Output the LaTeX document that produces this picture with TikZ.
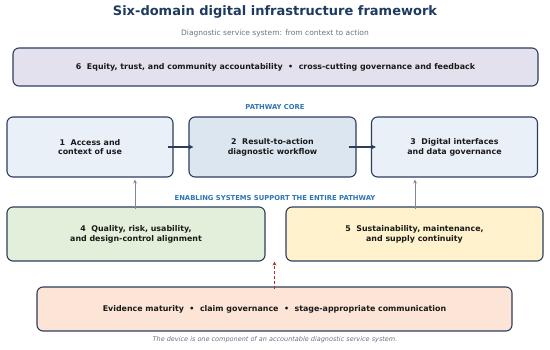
\documentclass[tikz,border=0pt]{standalone}
\usepackage{fontspec}
\setmainfont{DejaVu Sans}
\usetikzlibrary{arrows.meta,calc}
\definecolor{navy}{HTML}{2C3E5C}
\definecolor{titlec}{HTML}{1F3A5F}
\definecolor{subg}{HTML}{6B7280}
\definecolor{lav}{HTML}{E4E1EF}
\definecolor{lblue}{HTML}{EAF0F8}
\definecolor{mblue}{HTML}{DCE6F1}
\definecolor{lgreen}{HTML}{E2EFDA}
\definecolor{lyellow}{HTML}{FFF2CC}
\definecolor{lpeach}{HTML}{FCE4D6}
\definecolor{accent}{HTML}{2E75B6}
\definecolor{garrow}{HTML}{7F8A99}
\definecolor{redc}{HTML}{A93232}
\definecolor{txt}{HTML}{1A1A1A}
\tikzset{
  box/.style={draw=navy, line width=1.1pt, rounded corners=6pt, align=center,
    inner sep=0pt, text=txt, font=\fontsize{7.9}{9.8}\selectfont\bfseries},
  navyarrow/.style={draw=navy, line width=1.4pt, -{Stealth[length=5pt,width=5pt]}},
  grayarrow/.style={draw=garrow, line width=0.9pt, -{Stealth[length=4pt,width=4pt]}},
  redarrow/.style={draw=redc, line width=1.1pt, dash pattern=on 3pt off 2pt, -{Stealth[length=4pt,width=4pt]}},
  lbl/.style={text=accent, font=\fontsize{6.8}{8}\selectfont\bfseries},
}
\begin{document}
\begin{tikzpicture}[x=1pt,y=-1pt]
\useasboundingbox (0,0) rectangle (550,350);
\node[text=titlec, font=\fontsize{13}{15}\selectfont\bfseries] (title) at (275,12) {Six-domain digital infrastructure framework};
\node[text=subg, font=\fontsize{7.5}{9}\selectfont] (sub) at (275,33) {Diagnostic service system: from context to action};
\node[box, fill=lav, minimum width=525pt, minimum height=38pt] (b6) at (275.5,67) {6\ \ Equity, trust, and community accountability\ \ •\ \ cross-cutting governance and feedback};
\node[lbl] (pc) at (275,107) {PATHWAY CORE};
\node[box, fill=lblue, minimum width=166pt, minimum height=60pt] (b1) at (90,147) {1\ \ Access and\\context of use};
\node[box, fill=mblue, minimum width=167pt, minimum height=60pt] (b2) at (272.5,147) {2\ \ Result-to-action\\diagnostic workflow};
\node[box, fill=lblue, minimum width=166pt, minimum height=60pt] (b3) at (454.5,147) {3\ \ Digital interfaces\\and data governance};
\node[lbl] (en) at (275,198) {ENABLING SYSTEMS SUPPORT THE ENTIRE PATHWAY};
\node[box, fill=lgreen, minimum width=258pt, minimum height=54pt] (b4) at (136,234) {4\ \ Quality, risk, usability,\\and design-control alignment};
\node[box, fill=lyellow, minimum width=257pt, minimum height=54pt] (b5) at (414.5,234) {5\ \ Sustainability, maintenance,\\and supply continuity};
\node[box, fill=lpeach, minimum width=475pt, minimum height=44pt] (ev) at (274.5,309) {Evidence maturity\ \ •\ \ claim governance\ \ •\ \ stage-appropriate communication};
\node[text=subg, font=\fontsize{6.5}{8}\selectfont\itshape] (cap) at (275,340) {The device is one component of an accountable diagnostic service system.};
\draw[navyarrow] ([xshift=-6pt]b1.east) -- ([xshift=5pt]b2.west);
\draw[navyarrow] ([xshift=-8pt]b2.east) -- ([xshift=5pt]b3.west);
\draw[grayarrow] ([xshift=-1pt,yshift=-3pt]b4.north) -- ([xshift=-1pt,yshift=-2pt]b4.north |- b1.south);
\draw[grayarrow] ([xshift=0.5pt,yshift=-3pt]b5.north) -- ([xshift=0.5pt,yshift=-2pt]b5.north |- b3.south);
\draw[redarrow] ([yshift=-3pt]ev.north) -- (ev.north |- b4.south);
\end{tikzpicture}
\end{document}
